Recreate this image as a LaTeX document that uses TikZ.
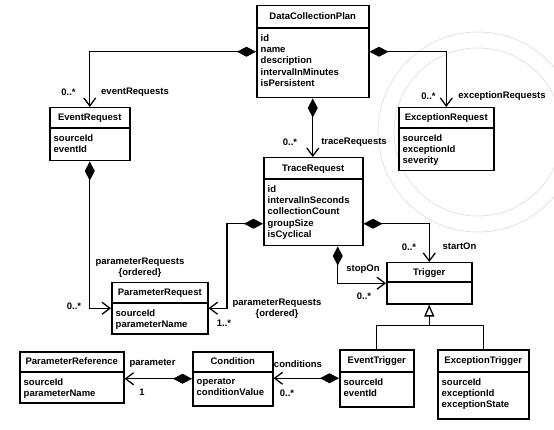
\documentclass[tikz,border=0pt]{standalone}
\usepackage{fontspec}
\setmainfont{Liberation Sans}
\usetikzlibrary{arrows.meta,calc}
\tikzset{
  every node/.style={font=\fontsize{9.5}{11.3}\selectfont\bfseries},
  clsbox/.style={draw, line width=1.5pt, inner sep=0pt, fill=white},
  attrtext/.style={align=left, inner sep=0pt},
  lbl/.style={inner sep=0pt},
  conn/.style={line width=1.3pt},
  comp/.style={conn, {Diamond[length=19pt,width=10pt]}-{Straight Barb[length=8pt,width=12pt]}},
  gen/.style={conn, -{Triangle[open,length=12pt,width=10pt,fill=white]}},
  wm/.style={draw=black!13, line width=0.7pt}
}
\newcommand{\umlclass}[8]{%
  \node[clsbox, anchor=north west, minimum width=#4pt, minimum height=#5pt] (#1) at (#2,#3) {};
  \draw[line width=1.5pt] ([yshift=-#6pt]#1.north west) -- ([yshift=-#6pt]#1.north east);
  \node[lbl, anchor=base] (#1-t) at ([yshift=-#6pt/2-3.4pt]#1.north) {#7};
  \node[attrtext, anchor=north west] (#1-a) at ([xshift=4.5pt, yshift=-#6pt-6.3pt]#1.north west) {#8};
}
\begin{document}
\begin{tikzpicture}[x=1pt,y=-1pt]
\path[use as bounding box] (0,0) rectangle (554,430);
% faint watermark
\begin{scope}
\clip (0,0) rectangle (554,430);
\draw[wm] (478,132) circle (100);
\draw[wm] (478,132) circle (84);
\end{scope}

\umlclass{dcp}{256}{5}{112}{92}{23}{DataCollectionPlan}{id\\name\\description\\intervalInMinutes\\isPersistent}
\umlclass{er}{49}{107}{80}{53}{21}{EventRequest}{sourceId\\eventId}
\umlclass{exr}{398}{107}{95}{63}{21}{ExceptionRequest}{sourceId\\exceptionId\\severity}
\umlclass{tr}{263}{157}{99}{88}{22}{TraceRequest}{id\\intervalInSeconds\\collectionCount\\groupSize\\isCyclical}
\umlclass{pr}{111}{282}{96}{51}{21}{ParameterRequest}{sourceId\\parameterName}
\umlclass{trig}{386}{262}{85}{41}{20}{Trigger}{}
\umlclass{et}{339}{349}{74}{57}{23}{EventTrigger}{sourceId\\eventId}
\umlclass{ext}{437}{349}{91}{69}{23}{ExceptionTrigger}{sourceId\\exceptionId\\exceptionState}
\umlclass{cond}{192}{351}{80}{54}{21}{Condition}{operator\\conditionValue}
\umlclass{pref}{19}{351}{104}{51}{21}{ParameterReference}{sourceId\\parameterName}

% connectors
\draw[comp] (dcp.west) -| (er.north);
\draw[comp] (dcp.east) -| (exr.north);
\draw[comp] (dcp.south) -- (dcp.south |- tr.north);
\draw[comp] ([yshift=-22pt]tr.west) -- ++(-36,0) |- (pr.east);
\draw[comp] (er.south) |- (pr.west);
\draw[comp] ([yshift=-22pt]tr.east) -| (trig.north);
\draw[comp] ([xshift=24.5pt]tr.south) |- (trig.west);
\coordinate (bar) at ([yshift=-21pt]trig.south);
\draw[conn] (et.north) |- (bar) -| (ext.north);
\draw[gen] (bar) -- (trig.south);
\draw[comp] (et.west) -- (et.west -| cond.east);
\draw[comp] (cond.west) -- (cond.west -| pref.east);

% labels
\node[lbl] (m1) at (68.5,92) {0..*};
\node[lbl] (n1) at (135,92) {eventRequests};
\node[lbl] (m2) at (428.5,96) {0..*};
\node[lbl] (n2) at (502,96) {exceptionRequests};
\node[lbl] (m3) at (290,142) {0..*};
\node[lbl] (n3) at (354,142) {traceRequests};
\node[lbl, align=center] (n4) at (140,267.5) {parameterRequests\\\{ordered\}};
\node[lbl] (m4) at (74,306) {0..*};
\node[lbl, align=center] (n5) at (277,309) {parameterRequests\\\{ordered\}};
\node[lbl] (m5) at (224,323) {1..*};
\node[lbl] (m6) at (409,247) {0..*};
\node[lbl] (n6) at (459.5,246) {startOn};
\node[lbl] (n7) at (363,269) {stopOn};
\node[lbl] (m7) at (364,296) {0..*};
\node[lbl] (n8) at (152.5,363) {parameter};
\node[lbl] (m8) at (142,392) {1};
\node[lbl] (n9) at (298,364) {conditions};
\node[lbl] (m9) at (287,393) {0..*};
\end{tikzpicture}
\end{document}
